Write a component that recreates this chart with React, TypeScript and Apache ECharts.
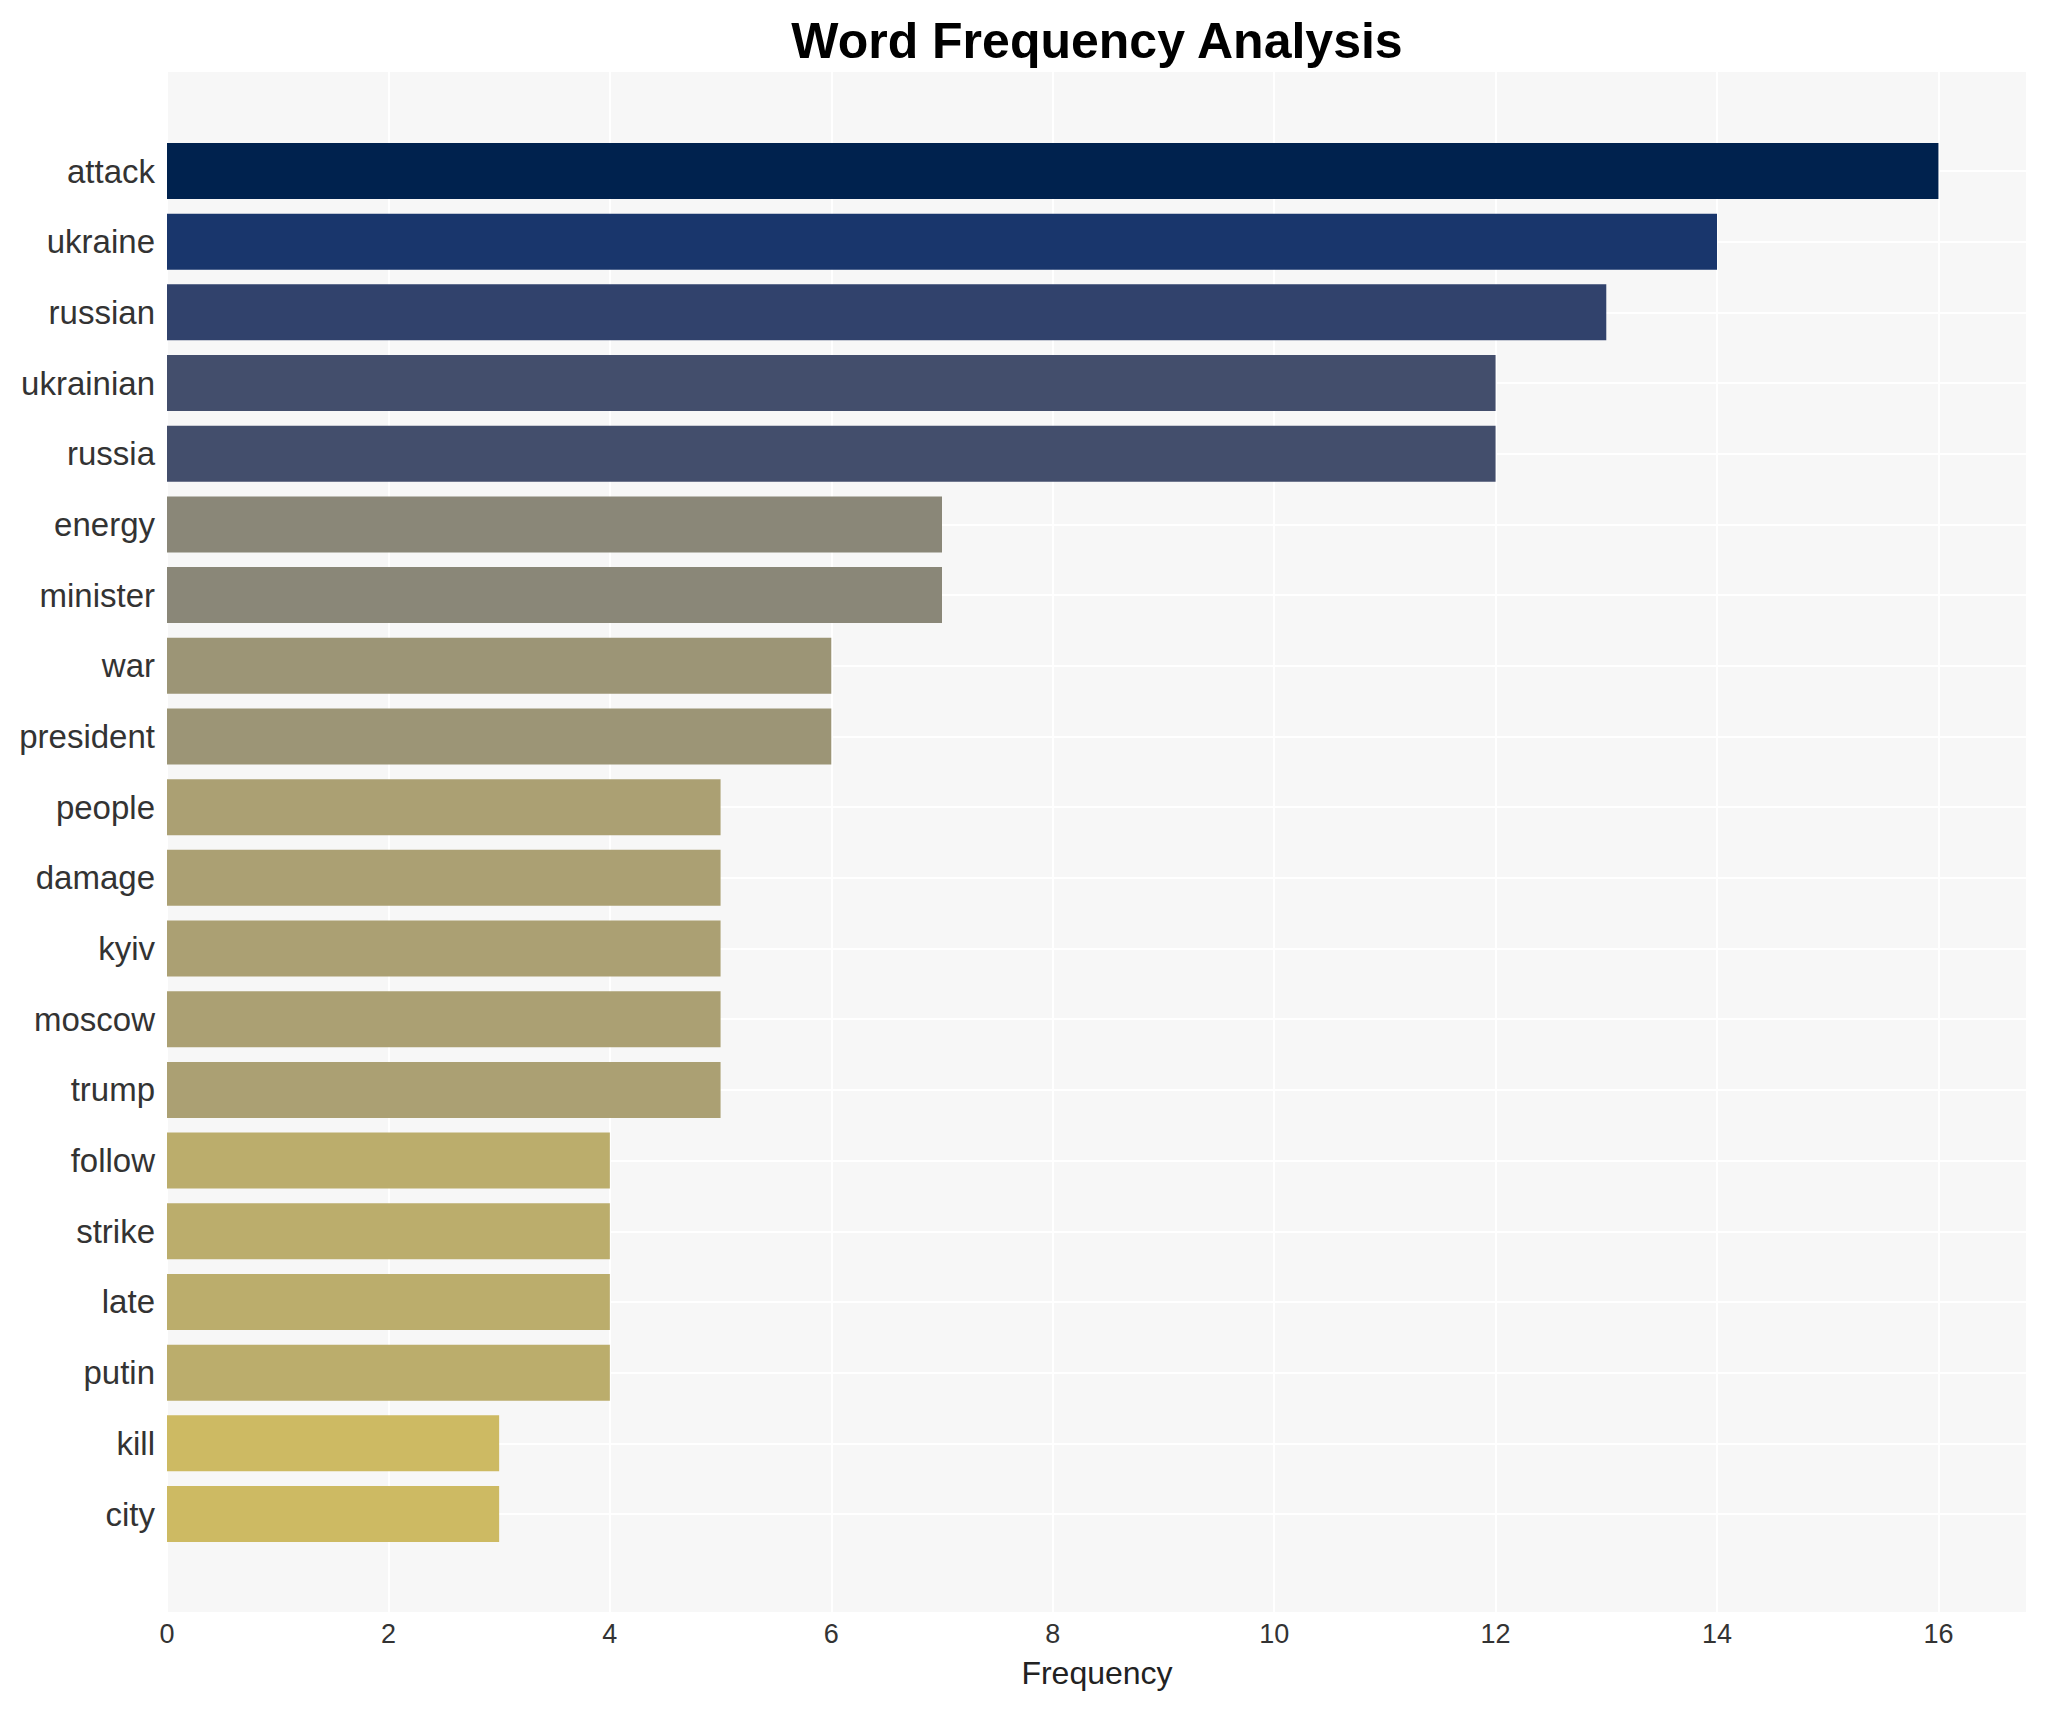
import React, { useEffect, useRef } from "react";
import * as echarts from "echarts";

const words = [
  "attack", "ukraine", "russian", "ukrainian", "russia", "energy", "minister",
  "war", "president", "people", "damage", "kyiv", "moscow", "trump", "follow",
  "strike", "late", "putin", "kill", "city",
];
const counts = [16, 14, 13, 12, 12, 7, 7, 6, 6, 5, 5, 5, 5, 5, 4, 4, 4, 4, 3, 3];
const barColors = [
  "#00224e", "#19366c", "#31426c", "#434e6c", "#434e6c", "#8a8778", "#8a8778",
  "#9c9576", "#9c9576", "#aba073", "#aba073", "#aba073", "#aba073", "#aba073",
  "#bbad6c", "#bbad6c", "#bbad6c", "#bbad6c", "#cdba63", "#cdba63",
];
const xMin = 0;
const xMax = 16.8;
const xInterval = 2;

const FONT = "'Liberation Sans', Arial, Helvetica, sans-serif";

export default function App() {
  const ref = useRef<HTMLDivElement>(null);
  useEffect(() => {
    if (!ref.current) return;
    const chart = echarts.init(ref.current, undefined, { renderer: "svg" });
    chart.setOption({
      animation: false,
      backgroundColor: "#ffffff",
      textStyle: { fontFamily: FONT },
      title: {
        text: "Word Frequency Analysis",
        left: 1092,
        textAlign: "center",
        top: 11,
        textStyle: { fontSize: 50, fontWeight: "bold", color: "#000000", fontFamily: FONT },
      },
      grid: [
        { left: 167, right: 19, top: 72, bottom: 98, show: true, backgroundColor: "#f7f7f7", borderWidth: 0 },
        { left: 167, right: 19, top: 171, bottom: 196, show: false },
      ],
      xAxis: [
        {
          gridIndex: 0,
          type: "value",
          min: xMin,
          max: xMax,
          interval: xInterval,
          axisLine: { show: false },
          axisTick: { show: false },
          axisLabel: { fontSize: 27, color: "#333333", margin: 8, showMaxLabel: false, fontFamily: FONT },
          splitLine: { show: true, lineStyle: { color: "#ffffff", width: 2 } },
          name: "Frequency",
          nameLocation: "middle",
          nameGap: 45,
          nameTextStyle: { fontSize: 32, color: "#222222", fontFamily: FONT },
        },
        { gridIndex: 1, type: "value", min: xMin, max: xMax, show: false },
      ],
      yAxis: [
        { gridIndex: 0, type: "value", show: false },
        {
          gridIndex: 1,
          type: "category",
          inverse: true,
          boundaryGap: false,
          data: words,
          axisLine: { show: false },
          axisTick: { show: false },
          axisLabel: { fontSize: 33, color: "#333333", margin: 12, interval: 0, fontFamily: FONT },
          splitLine: { show: true, interval: 0, lineStyle: { color: "#ffffff", width: 2 } },
        },
      ],
      series: [
        {
          type: "bar",
          xAxisIndex: 1,
          yAxisIndex: 1,
          barWidth: 56,
          clip: false,
          data: counts.map((v, i) => ({ value: v, itemStyle: { color: barColors[i] } })),
        },
      ],
    });
    return () => chart.dispose();
  }, []);
  return (
    <div
      ref={ref}
      style={{ position: "absolute", left: 0, top: 0, width: 2046, height: 1710 }}
    />
  );
}
